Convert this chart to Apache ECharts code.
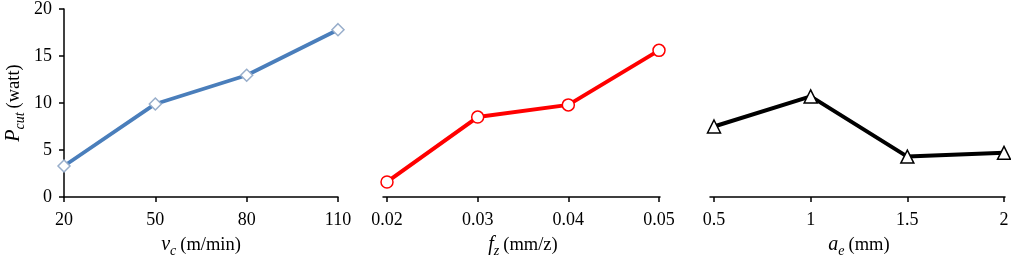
<!DOCTYPE html>
<html>
<head>
<meta charset="utf-8">
<script src="https://cdn.jsdelivr.net/npm/echarts@6/dist/echarts.min.js"></script>
<style>
  html, body { margin: 0; padding: 0; background: #fff; }
  #main { width: 1011px; height: 262px; }
</style>
</head>
<body>
<div id="main"></div>
<script>
// 数据
let vcCats = ['20', '50', '80', '110'],
    vcVals = [3.3, 9.9, 12.95, 17.8];
let fzCats = ['0.02', '0.03', '0.04', '0.05'],
    fzVals = [1.6, 8.5, 9.8, 15.6];
let aeCats = ['0.5', '1', '1.5', '2'],
    aeVals = [7.5, 10.7, 4.3, 4.7];
let yTicks = [0, 5, 10, 15, 20];

let font = 'Liberation Serif';
let rich = {
    i: { fontFamily: font, fontSize: 20, fontStyle: 'italic', color: '#000', lineHeight: 24, verticalAlign: 'middle' },
    s: { fontFamily: font, fontSize: 14, fontStyle: 'italic', color: '#000', lineHeight: 14, verticalAlign: 'bottom', padding: [0, 4, -1, 0] },
    n: { fontFamily: font, fontSize: 18.5, color: '#000', lineHeight: 24, verticalAlign: 'middle' }
};
let lab = { fontFamily: font, fontSize: 18, color: '#000' };
let axLine = { show: true, lineStyle: { color: '#000', width: 1.5 } };

let grids = [
    { left: 64, top: 9, width: 274, height: 188 },
    { left: 387, top: 9, width: 272, height: 188 },
    { left: 714, top: 9, width: 290, height: 188 },
    // 轴线稍长一点
    { left: 383, top: 9, width: 277, height: 188 },
    { left: 710, top: 9, width: 295, height: 188 }
];
grids.forEach(g => { g.outerBoundsMode = 'none'; g.containLabel = false; });

function xAx(idx, cats, name) {
    return {
        type: 'category', gridIndex: idx, data: cats, boundaryGap: false,
        axisLine: idx == 0 ? axLine : { show: false },
        axisTick: { show: true, alignWithLabel: true, length: 5, lineStyle: { color: '#000', width: 1.5 } },
        axisLabel: Object.assign({ margin: 14 }, lab),
        name: name, nameLocation: 'middle', nameGap: 36,
        nameTextStyle: { rich: rich }
    };
}

function yAx(idx, show) {
    return {
        type: 'value', gridIndex: idx, min: 0, max: 20, interval: 5,
        splitLine: { show: false },
        axisLine: show ? axLine : { show: false },
        axisTick: { show: show, length: 5, lineStyle: { color: '#000', width: 1.5 } },
        axisLabel: Object.assign({ show: show, margin: 12 }, lab),
        name: show ? '{i|P}{s|cut}{n|(watt)}' : '',
        nameLocation: 'middle', nameGap: 38, nameRotate: 90,
        nameTextStyle: { rich: rich }
    };
}

let chart = echarts.init(document.getElementById('main'));
chart.setOption({
    animation: false,
    grid: grids,
    xAxis: [
        xAx(0, vcCats, '{i|v}{s|c}{n|(m/min)}'),
        xAx(1, fzCats, '{i|f}{s|z}{n|(mm/z)}'),
        xAx(2, aeCats, '{i|a}{s|e}{n|(mm)}'),
        { type: 'value', gridIndex: 3, axisLine: axLine, axisTick: { show: false }, axisLabel: { show: false }, splitLine: { show: false } },
        { type: 'value', gridIndex: 4, axisLine: axLine, axisTick: { show: false }, axisLabel: { show: false }, splitLine: { show: false } }
    ],
    yAxis: [yAx(0, true), yAx(1, false), yAx(2, false), yAx(3, false), yAx(4, false)],
    series: [
        {
            type: 'line', xAxisIndex: 0, yAxisIndex: 0, data: vcVals,
            lineStyle: { color: '#4a7ebb', width: 3.8 },
            symbol: 'diamond', symbolSize: 12,
            itemStyle: { color: '#fff', borderColor: '#98aecb', borderWidth: 1.5 }
        },
        {
            type: 'line', xAxisIndex: 1, yAxisIndex: 1, data: fzVals,
            lineStyle: { color: '#ff0000', width: 4 },
            symbol: 'circle', symbolSize: 12,
            itemStyle: { color: '#fff', borderColor: '#ff0000', borderWidth: 1.5 }
        },
        {
            type: 'line', xAxisIndex: 2, yAxisIndex: 2, data: aeVals,
            lineStyle: { color: '#000', width: 4 },
            symbol: 'triangle', symbolSize: 13,
            itemStyle: { color: '#fff', borderColor: '#000', borderWidth: 1.5 }
        }
    ]
});
</script>
</body>
</html>
